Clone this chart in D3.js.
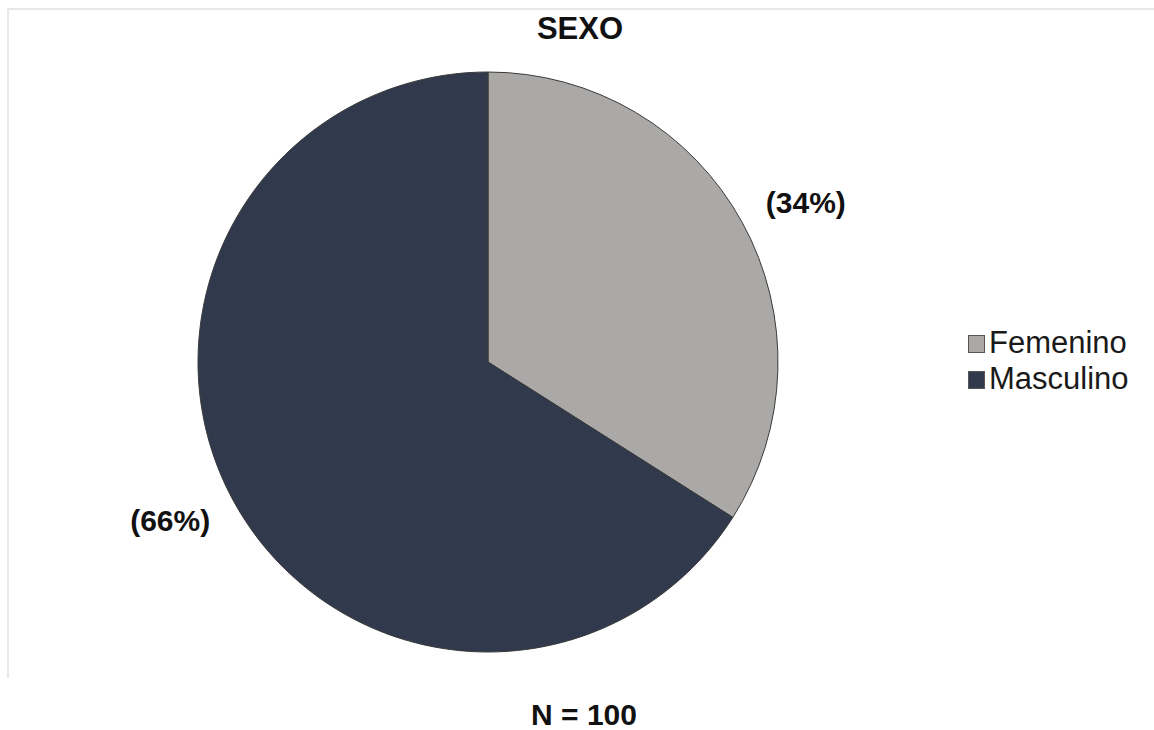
<!DOCTYPE html>
<html>
<head>
<meta charset="utf-8">
<script src="https://cdn.jsdelivr.net/npm/d3@7"></script>
<style>
  body { margin: 0; background: #fff; }
  svg { display: block; font-family: Arial, "Liberation Sans", sans-serif; }
</style>
</head>
<body>
<svg id="chart" width="1154" height="730"></svg>
<script>
var categories = ['Femenino', 'Masculino'];
var values = [34, 66];
var labels = ['(34%)', '(66%)'];
var colors = ['#aaa9a7', '#313a4c'];

var svg = d3.select('#chart');

// light frame around plot area (top and left edges only visible)
svg.append('path')
  .attr('d', 'M8,678V9H1154')
  .attr('fill', 'none')
  .attr('stroke', '#e8e8e8')
  .attr('stroke-width', 2);

var cx = 488, cy = 362, radius = 290;

var pie = d3.pie().sort(null).value(function(d) { return d; });
var arcs = pie(values);
var arc = d3.arc().innerRadius(0).outerRadius(radius);

var g = svg.append('g').attr('transform', 'translate(' + cx + ',' + cy + ')');

g.selectAll('path.slice')
  .data(arcs)
  .enter().append('path')
  .attr('class', 'slice')
  .attr('d', arc)
  .attr('fill', function(d, i) { return colors[i]; })
  .attr('stroke', '#3a3a3a')
  .attr('stroke-width', 1);

// percent labels outside the slices
g.selectAll('text.lbl')
  .data(arcs)
  .enter().append('text')
  .attr('class', 'lbl')
  .attr('x', function(d) {
    var a = (d.startAngle + d.endAngle) / 2;
    return Math.sin(a) * 317;
  })
  .attr('y', function(d) {
    var a = (d.startAngle + d.endAngle) / 2;
    return -Math.cos(a) * 331 + 10;
  })
  .attr('text-anchor', function(d) {
    var a = (d.startAngle + d.endAngle) / 2;
    return Math.sin(a) >= 0 ? 'start' : 'end';
  })
  .attr('font-size', 30)
  .attr('font-weight', 'bold')
  .attr('fill', '#111')
  .text(function(d, i) { return labels[i]; });

// title
svg.append('text')
  .attr('x', 580).attr('y', 39)
  .attr('text-anchor', 'middle')
  .attr('font-size', 31)
  .attr('font-weight', 'bold')
  .attr('fill', '#111')
  .text('SEXO');

// legend
var legend = svg.append('g').attr('transform', 'translate(968,335)');
var item = legend.selectAll('g')
  .data(categories)
  .enter().append('g')
  .attr('transform', function(d, i) { return 'translate(0,' + (i * 36) + ')'; });
item.append('rect')
  .attr('x', 0.5).attr('y', 0.5)
  .attr('width', 16).attr('height', 17)
  .attr('fill', function(d, i) { return colors[i]; })
  .attr('stroke', '#555')
  .attr('stroke-width', 1);
item.append('text')
  .attr('x', 21).attr('y', 18)
  .attr('font-size', 31)
  .attr('fill', '#1a1a1a')
  .text(function(d) { return d; });

// sample size note
svg.append('text')
  .attr('x', 584).attr('y', 725)
  .attr('text-anchor', 'middle')
  .attr('font-size', 30)
  .attr('font-weight', 'bold')
  .attr('fill', '#111')
  .text('N = 100');
</script>
</body>
</html>
